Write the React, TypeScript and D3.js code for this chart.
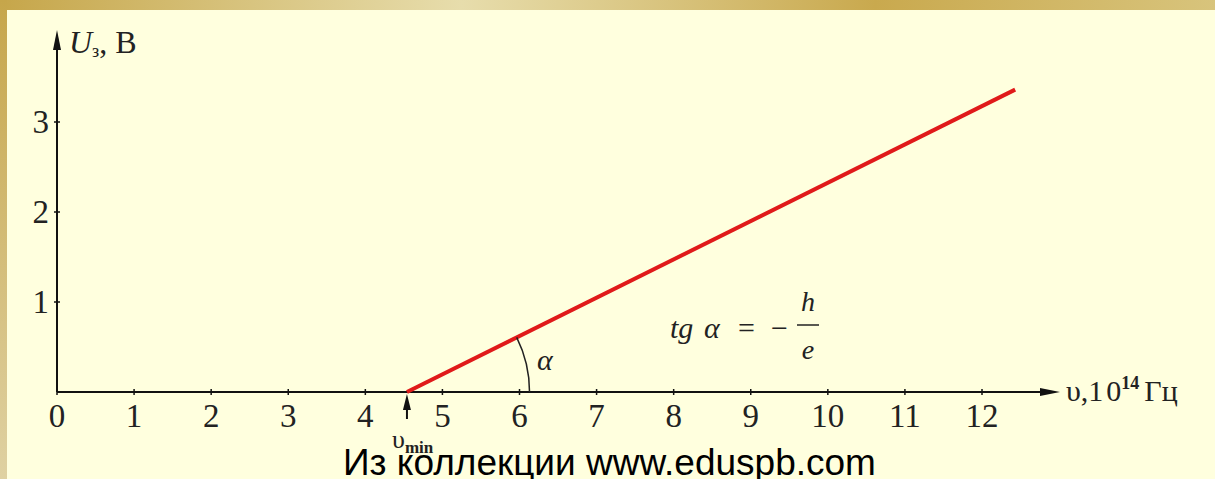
import React from "react";
import * as d3 from "d3";

const W = 1215;
const H = 479;

const xTicks = [0, 1, 2, 3, 4, 5, 6, 7, 8, 9, 10, 11, 12];
const yTicks = [1, 2, 3];
const lineNu = [4.54, 12.43];
const lineU = [0, 3.36];
const nuMin = 4.54;
const alphaNu = 6.13;

export default function App() {
  const x = d3.scaleLinear().domain([0, 12]).range([57, 982]);
  const y = d3.scaleLinear().domain([0, 3]).range([392, 122]);
  const pts: [number, number][] = lineNu.map((n, i) => [n, lineU[i]]);
  const line = d3
    .line<[number, number]>()
    .x((d) => x(d[0]))
    .y((d) => y(d[1]));

  const x0 = x(0);
  const y0 = y(0);
  const axisEnd = 1060;
  const axisTop = 30;

  const cx = x(nuMin);
  const r = x(alphaNu) - cx;
  const ang = Math.atan2(y(lineU[0]) - y(lineU[1]), x(lineNu[1]) - x(lineNu[0]));
  const arcPath = `M${cx + r},${y0} A${r},${r} 0 0 0 ${cx + r * Math.cos(ang)},${y0 - r * Math.sin(ang)}`;

  const serif = "'Liberation Serif', 'DejaVu Serif', serif";

  return (
    <svg
      width={W}
      height={H}
      style={{ position: "absolute", left: 0, top: 0, display: "block" }}
    >
      <defs>
        <linearGradient id="topg" x1="0" y1="0" x2="1" y2="0">
          <stop offset="0" stopColor="#C6A64A" />
          <stop offset="0.38" stopColor="#E7DDAC" />
          <stop offset="0.72" stopColor="#C9A94E" />
          <stop offset="1" stopColor="#D8C47C" />
        </linearGradient>
        <linearGradient id="leftg" x1="0" y1="0" x2="0" y2="1">
          <stop offset="0" stopColor="#C6A64A" />
          <stop offset="1" stopColor="#DFD1A2" />
        </linearGradient>
      </defs>
      <rect x={0} y={0} width={W} height={H} fill="#FFFFDE" />
      <rect x={0} y={0} width={W} height={10} fill="url(#topg)" />
      <rect x={0} y={0} width={7} height={H} fill="url(#leftg)" />

      {/* axes */}
      <line x1={x0} y1={y0} x2={axisEnd - 14} y2={y0} stroke="#111" strokeWidth={2} />
      <path d={`M${axisEnd},${y0} L${axisEnd - 20},${y0 - 4} L${axisEnd - 20},${y0 + 4} Z`} fill="#111" />
      <line x1={x0} y1={y0} x2={x0} y2={axisTop + 14} stroke="#111" strokeWidth={2} />
      <path d={`M${x0},${axisTop} L${x0 - 4},${axisTop + 20} L${x0 + 4},${axisTop + 20} Z`} fill="#111" />

      {xTicks.map((t) => (
        <g key={"x" + t}>
          <line x1={x(t)} x2={x(t)} y1={y0 - 3} y2={y0 + 3} stroke="#111" strokeWidth={1.5} />
          <text x={x(t)} y={427} textAnchor="middle" fontFamily={serif} fontSize={33} fill="#222">
            {t}
          </text>
        </g>
      ))}
      {yTicks.map((t) => (
        <g key={"y" + t}>
          <line x1={x0 - 3} x2={x0 + 3} y1={y(t)} y2={y(t)} stroke="#111" strokeWidth={1.5} />
          <text x={49} y={y(t) + 11} textAnchor="end" fontFamily={serif} fontSize={33} fill="#222">
            {t}
          </text>
        </g>
      ))}

      {/* axis labels */}
      <text x={69} y={53} fontFamily={serif} fontSize={32} fill="#222">
        <tspan fontStyle="italic">U</tspan>
        <tspan fontSize={18} dy={4}>з</tspan>
        <tspan dy={-4}>, B</tspan>
      </text>
      <text x={1066} y={401} fontFamily={serif} fontSize={30} fill="#222">
        <tspan>υ,1</tspan>
        <tspan dx={3}>0</tspan>
        <tspan fontSize={18} dy={-12} fontWeight="bold">14</tspan>
        <tspan dy={12} dx={5}>Гц</tspan>
      </text>

      {/* red line */}
      <path d={line(pts) || ""} stroke="#E01A1A" strokeWidth={4} fill="none" />

      {/* alpha arc */}
      <path d={arcPath} stroke="#222" strokeWidth={1.5} fill="none" />
      <text x={537} y={370} fontFamily={serif} fontStyle="italic" fontSize={30} fill="#222">
        α
      </text>

      {/* formula */}
      <text y={338} fontFamily={serif} fontSize={30} fill="#222">
        <tspan x={670} fontStyle="italic">tg</tspan>
        <tspan x={704} fontStyle="italic">α</tspan>
        <tspan x={738}>=</tspan>
        <tspan x={771}>−</tspan>
      </text>
      <line x1={797} x2={819} y1={325} y2={325} stroke="#222" strokeWidth={1.5} />
      <text x={808} y={311} textAnchor="middle" fontFamily={serif} fontStyle="italic" fontSize={28} fill="#222">
        h
      </text>
      <text x={808} y={359} textAnchor="middle" fontFamily={serif} fontStyle="italic" fontSize={28} fill="#222">
        e
      </text>

      {/* nu min arrow */}
      <line x1={cx} x2={cx} y1={y0 + 14} y2={y0 + 27} stroke="#111" strokeWidth={2} />
      <path d={`M${cx},${y0 + 2} L${cx - 4},${y0 + 18} L${cx + 4},${y0 + 18} Z`} fill="#111" />
      <text x={392} y={448} fontFamily={serif} fontSize={26} fill="#222">
        <tspan>υ</tspan>
        <tspan fontSize={17} dy={5} fontWeight="bold">min</tspan>
      </text>

      {/* watermark */}
      <text x={343} y={475} fontFamily="'Liberation Sans', Arial, sans-serif" fontSize={37} fill="#000">
        Из коллекции www.eduspb.com
      </text>
    </svg>
  );
}
